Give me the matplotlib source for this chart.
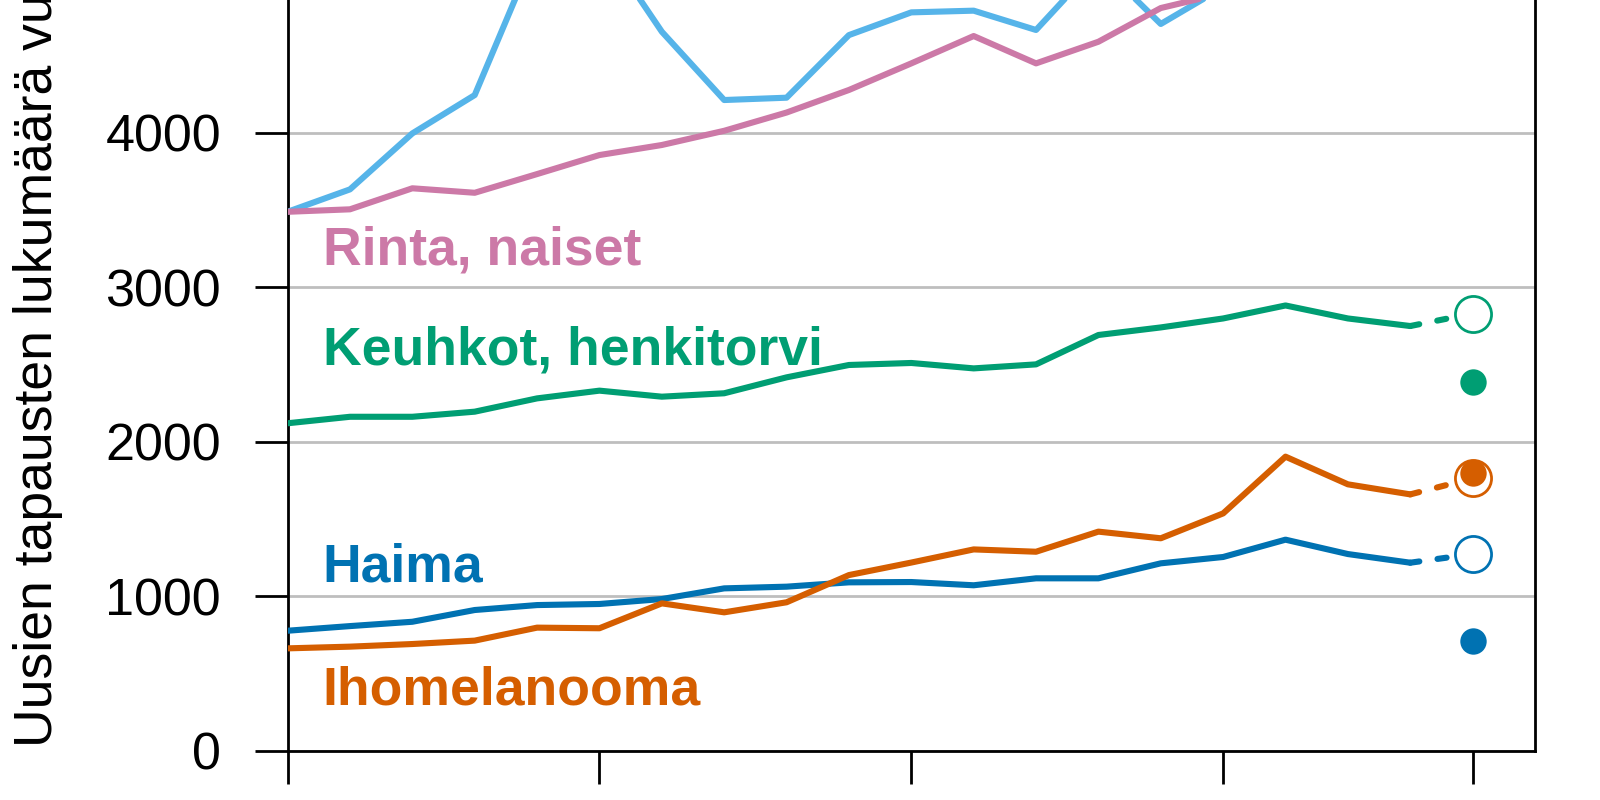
import numpy as np
import matplotlib
matplotlib.use("Agg")
import matplotlib.pyplot as plt

plt.rcParams['font.family'] = ['Liberation Sans', 'DejaVu Sans']

# Data
years = list(range(2000, 2019))
proj_year = 2019

eturauhanen = [3488, 3633, 3995, 4243, 5200, 5250, 4653, 4211, 4226, 4631,
               4778, 4789, 4664, 5100, 4703, 4940, 5050, 5150, 5100]
rinta = [3488, 3504, 3640, 3611, 3732, 3855, 3920, 4012, 4130, 4276,
         4448, 4625, 4448, 4588, 4806, 4902, 5000, 5050, 5100]
keuhkot = [2120, 2162, 2162, 2195, 2281, 2331, 2292, 2314, 2417, 2497,
           2510, 2475, 2501, 2691, 2740, 2798, 2882, 2798, 2749]
haima = [778, 808, 836, 912, 944, 951, 983, 1052, 1063, 1091,
         1093, 1072, 1117, 1117, 1214, 1255, 1367, 1274, 1218]
iho = [664, 675, 692, 714, 798, 794, 955, 897, 962, 1138,
       1219, 1304, 1289, 1419, 1376, 1537, 1904, 1725, 1660]

# ennuste (avoin ympyrä) ja havaittu (täytetty pallo)
ennuste = {"keuhkot": 2830, "iho": 1764, "haima": 1274, "rinta": 5150, "eturauhanen": 5200}
havaittu = {"keuhkot": 2389, "iho": 1796, "haima": 714, "rinta": 5150, "eturauhanen": 5000}

colors = {"eturauhanen": "#56B4E9", "rinta": "#CC79A7", "keuhkot": "#009E73",
          "haima": "#0072B2", "iho": "#D55E00"}
series = {"eturauhanen": eturauhanen, "rinta": rinta, "keuhkot": keuhkot,
          "haima": haima, "iho": iho}

labels = [("rinta", "Rinta, naiset", 3144),
          ("keuhkot", "Keuhkot, henkitorvi", 2497),
          ("haima", "Haima", 1095),
          ("iho", "Ihomelanooma", 298)]

fig = plt.figure(figsize=(16, 8), dpi=100)
ax = fig.add_axes([287.6 / 1600, 49 / 800, (1535 - 287.6) / 1600, 751 / 800])

for key, vals in series.items():
    c = colors[key]
    ax.plot(years, vals, color=c, lw=4.4, solid_capstyle='round', zorder=3)
    ax.plot([years[-1], proj_year], [vals[-1], ennuste[key]], color=c, lw=4.4,
            linestyle=(0, (1.5, 3)), dash_capstyle='round', zorder=3)
    ax.plot(proj_year, ennuste[key], 'o', ms=26, mfc='white', mec=c, mew=2, zorder=4)
    ax.plot(proj_year, havaittu[key], 'o', ms=19, mfc=c, mec=c, mew=0, zorder=5)

for key, txt, yv in labels:
    ax.text(2000.56, yv, txt, color=colors[key], fontsize=38.5, fontweight='bold',
            ha='left', va='baseline', zorder=6)

ax.set_xlim(2000, 2020)
ax.set_ylim(0, 4858)
ax.set_yticks([0, 1000, 2000, 3000, 4000])
ax.set_xticks([2000, 2005, 2010, 2015, 2019])
ax.yaxis.grid(True, color='#BEBEBE', lw=2, zorder=1)
ax.set_axisbelow(True)

ax.spines['top'].set_visible(False)
for s in ['left', 'right', 'bottom']:
    ax.spines[s].set_linewidth(2)
ax.tick_params(axis='y', length=24, width=2, pad=24, labelsize=37.5)
ax.tick_params(axis='x', length=24, width=2, labelbottom=False)

fig.text(38 / 1600, 53 / 800, "Uusien tapausten lukumäärä vuodessa",
         rotation=90, ha='center', va='bottom', fontsize=38.5)

fig.savefig("out.png", dpi=100)
